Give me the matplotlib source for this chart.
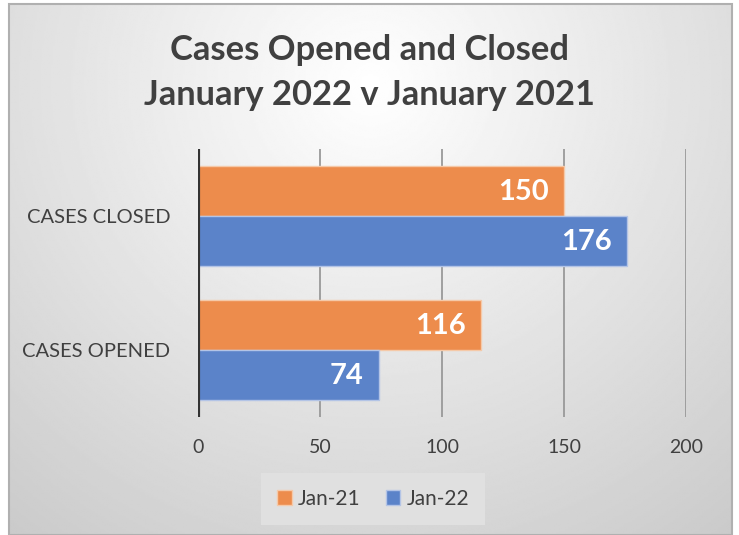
import numpy as np
import matplotlib.pyplot as plt
from matplotlib.patches import Rectangle

categories = ['CASES OPENED', 'CASES CLOSED']
series_names = ['Jan-21', 'Jan-22']
jan21 = [116, 150]
jan22 = [74, 176]
xticks = [0, 50, 100, 150, 200]

orange = '#ed8c4c'
blue = '#5b83c9'
text_col = '#404040'
font = 'Lato'

W, H = 739, 535
fig = plt.figure(figsize=(W / 100, H / 100), dpi=100)
fig.patch.set_facecolor('white')

# radial gradient background of chart area
bg = fig.add_axes([9 / W, 0, (732 - 9) / W, (535 - 4) / H])
bg.set_axis_off()
yy, xx = np.mgrid[0:1:300j, 0:1:400j]
r = np.sqrt(((xx - 0.5) / 0.75) ** 2 + ((yy - 0.15) / 1.0) ** 2)
val = 1.0 - 0.23 * np.clip(r, 0, 1.2) / 1.2
bg.imshow(val, cmap='gray', vmin=0, vmax=1, aspect='auto',
          extent=[0, 1, 0, 1], origin='upper', interpolation='bilinear')
bg.add_patch(Rectangle((0, 0), 1, 1, transform=bg.transAxes, fill=False,
                       edgecolor='#b0b0b0', lw=1.5, clip_on=False))

left, right, top, bottom = 198, 686, 149, 417
ax = fig.add_axes([left / W, 1 - bottom / H, (right - left) / W, (bottom - top) / H])
ax.patch.set_alpha(0)

y = np.arange(len(categories))
h = 0.373
b1 = ax.barh(y + h / 2, jan21, height=h, color=orange, edgecolor='#f5c9a8',
             lw=1, label=series_names[0], zorder=3)
b2 = ax.barh(y - h / 2, jan22, height=h, color=blue, edgecolor='#b3c4e6',
             lw=1, label=series_names[1], zorder=3)

for bars, vals in ((b1, jan21), (b2, jan22)):
    for rect, v in zip(bars, vals):
        ax.annotate(str(v), (v, rect.get_y() + rect.get_height() / 2),
                    xytext=(-11, -1), textcoords='offset points',
                    ha='right', va='center', color='white', fontsize=21,
                    fontweight='bold', family=font, zorder=4)

ax.set_xlim(0, 200)
ax.set_ylim(-0.5, 1.5)
ax.set_xticks(xticks)
ax.set_xticklabels([str(t) for t in xticks], fontsize=14, color=text_col, family=font)
ax.set_yticks(y)
ax.set_yticklabels(categories, fontsize=14.5, color=text_col, family=font)
ax.tick_params(axis='both', length=0)
ax.tick_params(axis='x', pad=16)
ax.tick_params(axis='y', pad=20)
for s in ax.spines.values():
    s.set_visible(False)
ax.grid(axis='x', color='#999999', lw=1.3, zorder=1)
ax.axvline(0, color='#333333', lw=3, zorder=5)

fig.text(0.5, 1 - 50 / H, 'Cases Opened and Closed', ha='center', va='center',
         fontsize=24.8, fontweight='bold', color=text_col, family=font)
fig.text(0.5, 1 - 95 / H, 'January 2022 v January 2021', ha='center', va='center',
         fontsize=24.8, fontweight='bold', color=text_col, family=font)

leg = fig.legend(handles=[b1, b2], loc='center', bbox_to_anchor=(373 / W, 1 - 499 / H),
                 ncol=2, frameon=True, fancybox=False, handlelength=0.7,
                 handleheight=0.7, handletextpad=0.3, columnspacing=1.2,
                 prop={'family': font, 'size': 15}, borderpad=0.75)
leg.get_frame().set_facecolor('#e0e0e0')
leg.get_frame().set_edgecolor('none')
leg.get_frame().set_alpha(1)
for t in leg.get_texts():
    t.set_color(text_col)

fig.savefig('out.png', dpi=100)
